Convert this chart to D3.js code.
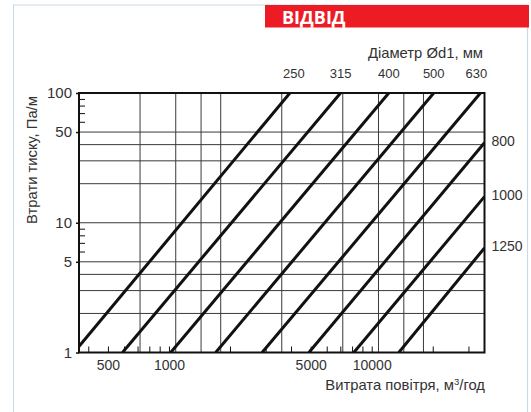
<!DOCTYPE html>
<html><head><meta charset="utf-8">
<script src="https://cdn.jsdelivr.net/npm/d3@7"></script>
<style>
body{margin:0;background:#fff;}
svg{display:block;}
svg text{font-family:"Liberation Sans",Arial,Helvetica,sans-serif;}
</style>
</head><body>
<svg id="c" width="531" height="412"></svg>
<script>
// ---- data ----
const diameters = [250, 315, 400, 500, 630, 800, 1000, 1250];      // mm
const flowAt1Pa = [340, 590, 1020, 1700, 2880, 4900, 8160, 13600];  // m3/h where loss = 1 Pa/m
const endFlow   = [3950, 7020, 12140, 20230, 34380, 36000, 36000, 36000]; // m3/h at line end
const endLoss   = [100, 100, 100, 100, 100, 41.4, 15.9, 6.4];       // Pa/m at line end
const xGrid = [720, 1080, 1440, 1800, 3600, 7200, 10800, 14400, 18000];
const yGrid = [2, 3, 4, 5, 10, 20, 30, 40, 50];
const xTickLabels = [500, 1000, 5000, 10000];
const xMinorTicks = [400,500,600,700,800,900,1000,2000,3000,4000,5000,6000,7000,8000,9000,10000,20000,30000];
const yTickLabels = [1, 5, 10, 50, 100];
const yMinorTicks = [6, 7, 8, 9, 60, 70, 80, 90];
const xDomain = [360, 36000];
const yDomain = [1, 100];

const svg = d3.select("#c");
const L = 79, R = 484.5, T = 93, B = 352.5;
const x = d3.scaleLog().domain(xDomain).range([L, R]);
const y = d3.scaleLog().domain(yDomain).range([B, T]);
const txt = "#333";

// outer light frame
svg.append("path")
  .attr("d", `M13.5,412 V5 H527.5 V412`)
  .attr("fill", "none").attr("stroke", "#c9dbe9").attr("stroke-width", 1.2);

// red banner
svg.append("rect").attr("x", 265).attr("y", 5).attr("width", 264).attr("height", 22.5).attr("fill", "#ed1c24");
svg.append("text").attr("x", 282).attr("y", 24).attr("fill", "#fff")
  .attr("font-size", 18).attr("font-weight", "bold")
  .style("font-family", "'Open Sans','Liberation Sans',sans-serif")
  .text("ВІДВІД");

// grid
const g = svg.append("g");
g.selectAll(".vg").data(xGrid).join("line")
  .attr("x1", d => x(d)).attr("x2", d => x(d)).attr("y1", T).attr("y2", B)
  .attr("stroke", "#3a3a3a").attr("stroke-width", 1);
g.selectAll(".hg").data(yGrid).join("line")
  .attr("y1", d => y(d)).attr("y2", d => y(d)).attr("x1", L).attr("x2", R)
  .attr("stroke", "#3a3a3a").attr("stroke-width", 1);

// clip
svg.append("clipPath").attr("id", "plot").append("rect")
  .attr("x", L).attr("y", T).attr("width", R - L).attr("height", B - T);

// diameter lines
const lines = diameters.map((d, i) => ({ d, pts: [[flowAt1Pa[i], 1], [endFlow[i], endLoss[i]]] }));
const lineGen = d3.line().x(p => x(p[0])).y(p => y(p[1]));
svg.append("g").attr("clip-path", "url(#plot)")
  .selectAll("path").data(lines).join("path")
  .attr("d", l => lineGen(l.pts))
  .attr("fill", "none").attr("stroke", "#111").attr("stroke-width", 3);

// plot frame
svg.append("rect").attr("x", L).attr("y", T).attr("width", R - L).attr("height", B - T)
  .attr("fill", "none").attr("stroke", "#111").attr("stroke-width", 2);

// minor ticks (inward)
svg.append("g").attr("transform", `translate(0,${B})`)
  .call(d3.axisTop(x).tickValues(xMinorTicks).tickSize(6).tickFormat(""))
  .call(a => a.select(".domain").remove())
  .selectAll("line").attr("stroke", "#111");
svg.append("g").attr("transform", `translate(${L},0)`)
  .call(d3.axisRight(y).tickValues(yMinorTicks).tickSize(6).tickFormat(""))
  .call(a => a.select(".domain").remove())
  .selectAll("line").attr("stroke", "#111");

// tick labels
const xa = svg.append("g").attr("transform", `translate(0,${B})`)
  .call(d3.axisBottom(x).tickValues(xTickLabels).tickSize(0).tickPadding(8).tickFormat(d3.format("d")));
xa.select(".domain").remove();
xa.selectAll("text").attr("font-size", 14).attr("fill", txt);

const ya = svg.append("g").attr("transform", `translate(${L},0)`)
  .call(d3.axisLeft(y).tickValues(yTickLabels).tickSize(3).tickPadding(4).tickFormat(d3.format("d")));
ya.select(".domain").remove();
ya.selectAll("line").attr("stroke", "#111").attr("stroke-width", 1.5);
ya.selectAll("text").attr("font-size", 15).attr("fill", txt);

// diameter labels
lines.forEach((l, i) => {
  const ex = x(endFlow[i]), ey = y(endLoss[i]);
  if (endLoss[i] >= 100) {
    svg.append("text").attr("x", ex + (i === 0 ? 4 : i === 4 ? -4 : 0)).attr("y", 78).attr("text-anchor", "middle")
      .attr("font-size", 13).attr("fill", txt).text(l.d);
  } else {
    svg.append("text").attr("x", R + 7).attr("y", ey - 2).attr("dy", "0.35em")
      .attr("font-size", 14).attr("fill", txt).text(l.d);
  }
});

// titles
svg.append("text").attr("x", 483).attr("y", 58).attr("text-anchor", "end")
  .attr("font-size", 14.8).attr("fill", txt).text("Діаметр Ød1, мм");

const xt = svg.append("text").attr("x", 485).attr("y", 390).attr("text-anchor", "end")
  .attr("font-size", 14.8).attr("fill", txt);
xt.append("tspan").text("Витрата повітря, м");
xt.append("tspan").attr("dy", -5).attr("font-size", 9.5).text("3");
xt.append("tspan").attr("dy", 5).text("/год");

svg.append("text").attr("transform", "translate(36.5,160) rotate(-90)").attr("text-anchor", "middle")
  .attr("font-size", 14.8).attr("fill", txt).text("Втрати тиску, Па/м");
</script>
</body></html>
